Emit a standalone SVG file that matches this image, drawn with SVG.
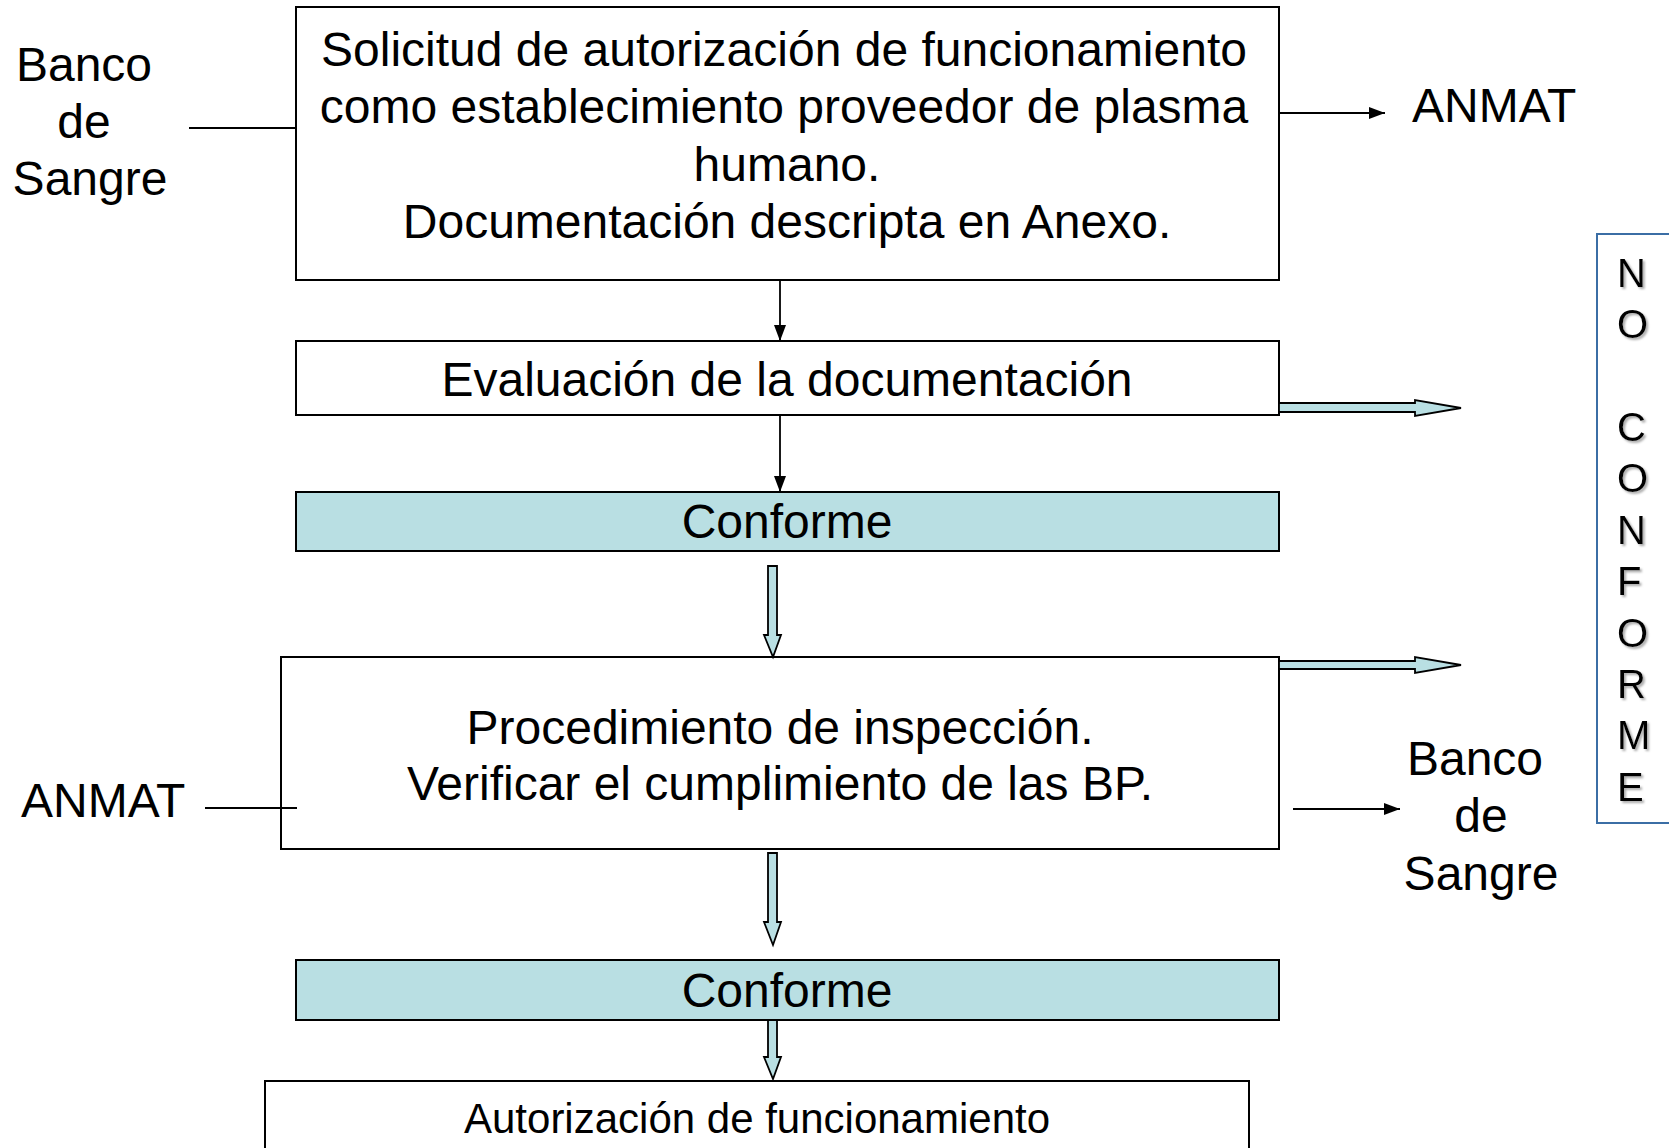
<svg xmlns="http://www.w3.org/2000/svg" width="1669" height="1148" viewBox="0 0 1669 1148">
<style>
  text { font-family: "Liberation Sans", Arial, sans-serif; fill: #000; }
  .t48 { font-size: 48px; }
  .t42 { font-size: 42px; }
  .mid { text-anchor: middle; }
  .box { fill: #fff; stroke: #000; stroke-width: 2; }
  .cyan { fill: #b9dfe3; stroke: #000; stroke-width: 2; }
  .thin { stroke: #000; stroke-width: 1.8; fill: none; }
  .block { fill: #b9dfe3; stroke: #000; stroke-width: 1.8; stroke-linejoin: miter; }
  .nc { font-size: 40px; filter: url(#shadow); }
</style>
<defs>
  <marker id="ah" viewBox="0 0 16 12" refX="16" refY="6" markerWidth="16" markerHeight="12" markerUnits="userSpaceOnUse" orient="auto">
    <path d="M0,0 L16,6 L0,12 z" fill="#000"/>
  </marker>
  <filter id="shadow" x="-20%" y="-20%" width="150%" height="150%">
    <feDropShadow dx="2" dy="2" stdDeviation="1" flood-color="#888" flood-opacity="0.7"/>
  </filter>
</defs>

<g id="label-banco-left">
  <text class="t48 mid" x="84" y="81">Banco</text>
  <text class="t48 mid" x="84" y="138">de</text>
  <text class="t48 mid" x="90" y="195">Sangre</text>
</g>

<g id="label-anmat-top">
  <text class="t48" x="1412" y="122">ANMAT</text>
</g>

<g id="node-solicitud">
  <rect class="box" x="296" y="7" width="983" height="273"/>
  <text class="t48 mid" x="784" y="66">Solicitud de autorización de funcionamiento</text>
  <text class="t48 mid" x="784" y="123">como establecimiento proveedor de plasma</text>
  <text class="t48 mid" x="787" y="181">humano.</text>
  <text class="t48 mid" x="787" y="238">Documentación descripta en Anexo.</text>
</g>

<g id="node-evaluacion">
  <rect class="box" x="296" y="341" width="983" height="74"/>
  <text class="t48 mid" x="787" y="396">Evaluación de la documentación</text>
</g>

<g id="node-conforme1">
  <rect class="cyan" x="296" y="492" width="983" height="59"/>
  <text class="t48 mid" x="787" y="538">Conforme</text>
</g>

<g id="node-inspeccion">
  <rect class="box" x="281" y="657" width="998" height="192"/>
  <text class="t48 mid" x="780" y="744">Procedimiento de inspección.</text>
  <text class="t48 mid" x="780" y="800">Verificar el cumplimiento de las BP.</text>
</g>

<g id="label-anmat-left">
  <text class="t48" x="21" y="817">ANMAT</text>
</g>

<g id="label-banco-right">
  <text class="t48 mid" x="1475" y="775">Banco</text>
  <text class="t48 mid" x="1481" y="832">de</text>
  <text class="t48 mid" x="1481" y="890">Sangre</text>
</g>

<g id="node-conforme2">
  <rect class="cyan" x="296" y="960" width="983" height="60"/>
  <text class="t48 mid" x="787" y="1007">Conforme</text>
</g>

<g id="node-autorizacion">
  <rect class="box" x="265" y="1081" width="984" height="90"/>
  <text class="t42 mid" x="757" y="1133">Autorización de funcionamiento</text>
</g>

<g id="node-no-conforme">
  <rect x="1597" y="234" width="100" height="589" fill="#fff" stroke="#3b6ea5" stroke-width="2"/>
  <text class="nc" x="1617" y="287">N</text>
  <text class="nc" x="1617" y="338">O</text>
  <text class="nc" x="1617" y="441">C</text>
  <text class="nc" x="1617" y="492">O</text>
  <text class="nc" x="1617" y="544">N</text>
  <text class="nc" x="1617" y="595">F</text>
  <text class="nc" x="1617" y="647">O</text>
  <text class="nc" x="1617" y="698">R</text>
  <text class="nc" x="1617" y="749">M</text>
  <text class="nc" x="1617" y="801">E</text>
</g>

<g id="connectors">
  <line class="thin" x1="189" y1="128" x2="296" y2="128"/>
  <line class="thin" x1="1279" y1="113" x2="1385" y2="113" marker-end="url(#ah)"/>
  <line class="thin" x1="780" y1="280" x2="780" y2="341" marker-end="url(#ah)"/>
  <line class="thin" x1="780" y1="415" x2="780" y2="492" marker-end="url(#ah)"/>
  <line class="thin" x1="205" y1="808" x2="297" y2="808"/>
  <line class="thin" x1="1293" y1="809" x2="1400" y2="809" marker-end="url(#ah)"/>
  <path class="block" d="M768,566 L777,566 L777,635 L781,635 L773,657 L764,635 L768,635 Z"/>
  <path class="block" d="M768,853 L777,853 L777,922 L781,922 L773,945 L764,922 L768,922 Z"/>
  <path class="block" d="M768,1020 L777,1020 L777,1057 L781,1057 L773,1079 L764,1057 L768,1057 Z"/>
  <path class="block" d="M1279,403 L1415,403 L1415,400 L1461,408 L1415,416 L1415,412 L1279,412 Z"/>
  <path class="block" d="M1279,661 L1415,661 L1415,657 L1461,665 L1415,673 L1415,669 L1279,669 Z"/>
</g>
</svg>
